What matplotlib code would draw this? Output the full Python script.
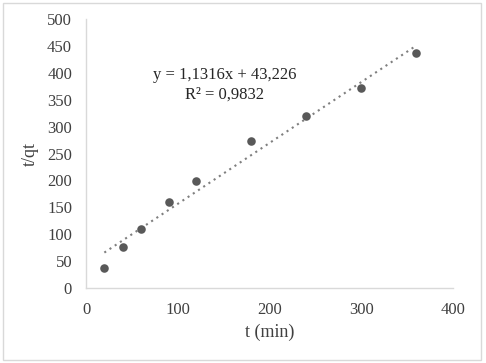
import numpy as np
import matplotlib.pyplot as plt
from matplotlib.patches import Rectangle

t_min = [20, 40, 60, 90, 120, 180, 240, 300, 360]
t_qt = [38, 77, 110, 159, 198, 273, 320, 372, 436]
slope = 1.1316
intercept = 43.226

plt.rcParams['font.family'] = ['Liberation Serif', 'DejaVu Serif']

fig = plt.figure(figsize=(4.86, 3.63), dpi=100)
ax = fig.add_axes([86 / 486, 1 - 288 / 363, (453 - 86) / 486, (288 - 19) / 363])

# dotted linear trendline
xs = np.array([t_min[0], t_min[-1]])
ax.plot(xs, slope * xs + intercept, color='#7f7f7f', linestyle=(0, (1, 2)), linewidth=1.5, zorder=2)
ax.scatter(t_min, t_qt, s=38, color='#595959', zorder=3, linewidths=0)

ax.set_xlim(0, 400)
ax.set_ylim(0, 500)
ax.set_xticks(range(0, 401, 100))
ax.set_yticks(range(0, 501, 50))
ax.tick_params(length=0, labelsize=12, colors='#404040')
ax.tick_params(axis='y', pad=10)
ax.tick_params(axis='x', pad=10)
for s in ['top', 'right']:
    ax.spines[s].set_visible(False)
for s in ['left', 'bottom']:
    ax.spines[s].set_color('#d9d9d9')
    ax.spines[s].set_linewidth(1)

ax.set_xlabel('t (min)', fontsize=13, color='#404040', labelpad=4)
ax.set_ylabel('t/qt', fontsize=13, color='#404040', labelpad=6)

ax.text(151, 377, 'y = 1,1316x + 43,226\nR² = 0,9832', ha='center', va='center',
        fontsize=12, color='#262626', linespacing=1.3)

fig.patches.append(Rectangle((3 / 486, 3 / 363), 478 / 486, 357 / 363, transform=fig.transFigure,
                             fill=False, edgecolor='#d9d9d9', linewidth=1))

fig.savefig('out.png', dpi=100)
